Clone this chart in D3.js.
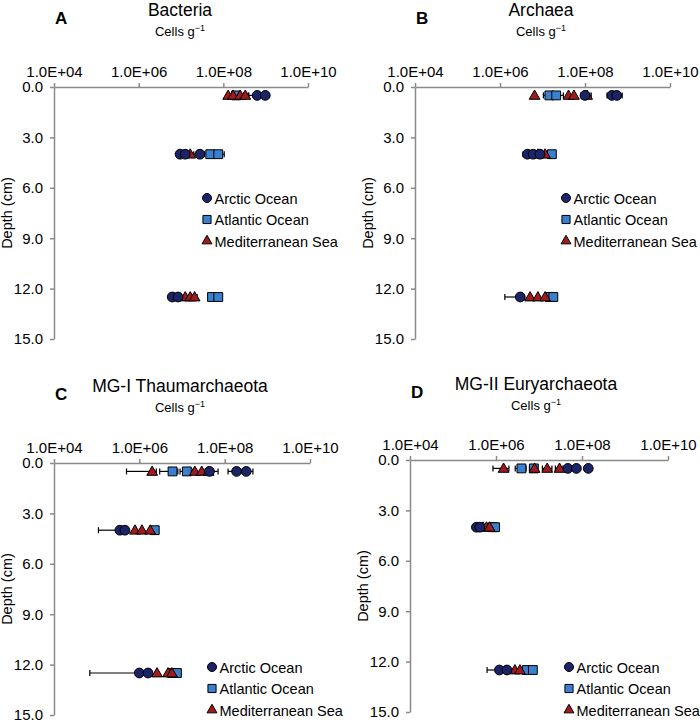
<!DOCTYPE html>
<html>
<head>
<meta charset="utf-8">
<script src="https://cdn.jsdelivr.net/npm/d3@7"></script>
<style>
  body { margin: 0; background: #fff; }
  svg text { font-family: "Liberation Sans", Arial, sans-serif; fill: #000; }
</style>
</head>
<body>
<svg id="chart" width="700" height="723"></svg>
<script>
// rows: [site, depth (cm), cells per g, error low, error high]
const bacteria = [
  ['Atlantic Ocean', 0.5, 2.0e8], ['Mediterranean Sea', 0.5, 1.3e8], ['Mediterranean Sea', 0.5, 1.7e8],
  ['Mediterranean Sea', 0.5, 2.5e8], ['Mediterranean Sea', 0.5, 3.3e8, 3.0e8, 3.9e8],
  ['Arctic Ocean', 0.5, 6.3e8, 4.0e8, 7.0e8], ['Arctic Ocean', 0.5, 9.8e8],
  ['Arctic Ocean', 4, 9.5e6, 8.0e6, 1.1e7], ['Arctic Ocean', 4, 1.26e7], ['Mediterranean Sea', 4, 1.65e7],
  ['Arctic Ocean', 4, 2.8e7, 2.0e7, 3.6e7], ['Atlantic Ocean', 4, 4.9e7], ['Atlantic Ocean', 4, 7.6e7, 6.0e7, 1.05e8],
  ['Arctic Ocean', 12.5, 6.2e6], ['Arctic Ocean', 12.5, 8.5e6], ['Mediterranean Sea', 12.5, 1.26e7],
  ['Mediterranean Sea', 12.5, 1.65e7], ['Mediterranean Sea', 12.5, 2.1e7, 1.8e7, 2.4e7],
  ['Atlantic Ocean', 12.5, 5.4e7, 4.6e7, 6.4e7], ['Atlantic Ocean', 12.5, 7.6e7, 6.5e7, 9.0e7]
];
const archaea = [
  ['Mediterranean Sea', 0.5, 6.5e6], ['Atlantic Ocean', 0.5, 1.45e7, 1.05e7, 1.8e7],
  ['Atlantic Ocean', 0.5, 2.1e7, 1.7e7, 3.1e7], ['Mediterranean Sea', 0.5, 4.1e7], ['Mediterranean Sea', 0.5, 5.5e7],
  ['Arctic Ocean', 0.5, 1.0e8, 8.0e7, 1.3e8], ['Mediterranean Sea', 0.5, 1.12e8, 9.0e7, 1.4e8],
  ['Arctic Ocean', 0.5, 4.3e8, 3.3e8, 5.0e8], ['Arctic Ocean', 0.5, 5.6e8, 4.5e8, 7.5e8],
  ['Arctic Ocean', 4, 4.4e6, 3.5e6, 5.0e6], ['Arctic Ocean', 4, 6.0e6], ['Mediterranean Sea', 4, 7.8e6],
  ['Arctic Ocean', 4, 8.7e6], ['Mediterranean Sea', 4, 1.15e7], ['Atlantic Ocean', 4, 1.66e7],
  ['Arctic Ocean', 12.5, 3.0e6, 1.3e6, 3.6e6], ['Mediterranean Sea', 12.5, 5.1e6], ['Mediterranean Sea', 12.5, 7.8e6],
  ['Mediterranean Sea', 12.5, 1.15e7], ['Atlantic Ocean', 12.5, 1.5e7], ['Atlantic Ocean', 12.5, 1.8e7, 1.5e7, 2.1e7]
];
const thaum = [
  ['Mediterranean Sea', 0.5, 2.0e6, 5.0e5, 2.5e6], ['Atlantic Ocean', 0.5, 6.0e6, 3.0e6, 8.0e6],
  ['Atlantic Ocean', 0.5, 1.3e7, 9.0e6, 1.8e7], ['Mediterranean Sea', 0.5, 2.0e7], ['Mediterranean Sea', 0.5, 2.9e7],
  ['Mediterranean Sea', 0.5, 4.2e7], ['Arctic Ocean', 0.5, 4.4e7, 3.5e7, 7.0e7],
  ['Arctic Ocean', 0.5, 1.9e8, 1.2e8, 2.6e8], ['Arctic Ocean', 0.5, 3.2e8, 2.6e8, 4.6e8],
  ['Arctic Ocean', 4, 3.5e5, 1.1e5, 4.0e5], ['Arctic Ocean', 4, 4.6e5], ['Mediterranean Sea', 4, 7.9e5],
  ['Mediterranean Sea', 4, 1.15e6], ['Mediterranean Sea', 4, 1.8e6], ['Atlantic Ocean', 4, 2.3e6, 1.9e6, 2.8e6],
  ['Arctic Ocean', 12.5, 1.0e6, 6.9e4, 1.1e6], ['Arctic Ocean', 12.5, 1.6e6], ['Mediterranean Sea', 12.5, 2.6e6],
  ['Atlantic Ocean', 12.5, 6.0e6], ['Mediterranean Sea', 12.5, 4.7e6], ['Mediterranean Sea', 12.5, 5.8e6],
  ['Atlantic Ocean', 12.5, 7.6e6, 6.5e6, 9.0e6]
];
const eury = [
  ['Mediterranean Sea', 0.5, 1.5e6, 8.5e5, 2.0e6], ['Atlantic Ocean', 0.5, 3.9e6, 2.8e6, 5.0e6],
  ['Atlantic Ocean', 0.5, 7.6e6, 6.0e6, 9.0e6], ['Mediterranean Sea', 0.5, 7.9e6], ['Mediterranean Sea', 0.5, 1.55e7, 1.2e7, 2.0e7],
  ['Mediterranean Sea', 0.5, 3.0e7, 2.4e7, 3.6e7], ['Arctic Ocean', 0.5, 4.7e7], ['Arctic Ocean', 0.5, 7.4e7],
  ['Arctic Ocean', 0.5, 1.4e8],
  ['Arctic Ocean', 4, 3.5e5, 3.0e5, 4.0e5], ['Arctic Ocean', 4, 4.2e5], ['Mediterranean Sea', 4, 5.0e5],
  ['Mediterranean Sea', 4, 6.0e5], ['Mediterranean Sea', 4, 7.1e5], ['Atlantic Ocean', 4, 8.3e5], ['Atlantic Ocean', 4, 9.5e5, 8.5e5, 1.1e6],
  ['Arctic Ocean', 12.5, 1.2e6, 6.2e5, 1.4e6], ['Arctic Ocean', 12.5, 1.8e6], ['Mediterranean Sea', 12.5, 2.75e6],
  ['Mediterranean Sea', 12.5, 3.6e6], ['Atlantic Ocean', 12.5, 5.2e6], ['Atlantic Ocean', 12.5, 7.2e6, 6.2e6, 8.5e6]
];
const sites = ['Arctic Ocean', 'Atlantic Ocean', 'Mediterranean Sea'];
const xTicks = [1e4, 1e6, 1e8, 1e10];
const depthTicks = [0, 3, 6, 9, 12, 15];

const panels = [
  { letter: 'A', title: 'Bacteria', data: bacteria, left: 54, right: 308, top: 87, dy: 0 },
  { letter: 'B', title: 'Archaea', data: archaea, left: 415, right: 670, top: 87, dy: 0 },
  { letter: 'C', title: 'MG-I Thaumarchaeota', data: thaum, left: 54, right: 310, top: 463, dy: 376 },
  { letter: 'D', title: 'MG-II Euryarchaeota', data: eury, left: 410, right: 668, top: 460, dy: 374 }
];
const fills = { 'Arctic Ocean': '#1b2466', 'Atlantic Ocean': '#3a7fd0', 'Mediterranean Sea': '#a01b1e' };
const shapes = { 'Arctic Ocean': d3.symbolCircle, 'Atlantic Ocean': d3.symbolSquare, 'Mediterranean Sea': d3.symbolTriangle };
const sizes = { 'Arctic Ocean': 75, 'Atlantic Ocean': 78, 'Mediterranean Sea': 50 };
const drawOrder = ['Atlantic Ocean', 'Mediterranean Sea', 'Arctic Ocean'];

const svg = d3.select('#chart');
const fmt = d => d.toExponential(1).replace('e', 'E').replace(/([+-])(\d)$/, '$10$2');

panels.forEach(p => {
  const g = svg.append('g');
  const bottom = p.top + 252;
  const x = d3.scaleLog().domain([1e4, 1e10]).range([p.left, p.right]);
  const y = d3.scaleLinear().domain([0, 15]).range([p.top, bottom]);

  g.append('text').attr('x', p.left + 1).attr('y', 24 + p.dy).attr('font-size', 17)
    .attr('font-weight', 'bold').text(p.letter);
  g.append('text').attr('x', p.left + 126).attr('y', 16 + p.dy).attr('font-size', 17.5)
    .attr('text-anchor', 'middle').text(p.title);
  const cells = g.append('text').attr('x', p.left + 126).attr('y', 36 + p.dy).attr('font-size', 13)
    .attr('text-anchor', 'middle');
  cells.append('tspan').text('Cells g');
  cells.append('tspan').attr('font-size', 9).attr('dy', -5).text('−1');

  const xAxis = g.append('g').attr('transform', `translate(0,${p.top})`)
    .call(d3.axisTop(x).tickValues(xTicks).tickFormat(fmt).tickSize(4).tickSizeOuter(0).tickPadding(6));
  const yAxis = g.append('g').attr('transform', `translate(${p.left},0)`)
    .call(d3.axisLeft(y).tickValues(depthTicks).tickFormat(d3.format('.1f')).tickSize(4).tickSizeOuter(0).tickPadding(7));
  [xAxis, yAxis].forEach(a => {
    a.selectAll('path, line').attr('stroke', '#8a8a8a').attr('stroke-width', 1.5);
    a.selectAll('text').attr('font-size', 15).attr('fill', '#000')
      .style('font-family', '"Liberation Sans", Arial, sans-serif');
  });

  g.append('text').attr('transform', `translate(${p.left - 42},${(p.top + bottom) / 2}) rotate(-90)`)
    .attr('text-anchor', 'middle').attr('font-size', 14.5).text('Depth (cm)');

  const rows = p.data.filter(r => r.length > 3);
  const bars = g.selectAll('.err').data(rows).enter().append('g').attr('stroke', '#000').attr('stroke-width', 1.2);
  bars.append('line').attr('x1', r => x(r[3])).attr('x2', r => x(r[4]))
    .attr('y1', r => y(r[1])).attr('y2', r => y(r[1]));
  bars.append('line').attr('x1', r => x(r[3])).attr('x2', r => x(r[3]))
    .attr('y1', r => y(r[1]) - 3).attr('y2', r => y(r[1]) + 3);
  bars.append('line').attr('x1', r => x(r[4])).attr('x2', r => x(r[4]))
    .attr('y1', r => y(r[1]) - 3).attr('y2', r => y(r[1]) + 3);

  drawOrder.forEach(site => {
    g.selectAll(null).data(p.data.filter(r => r[0] === site)).enter().append('path')
      .attr('d', d3.symbol().type(shapes[site]).size(sizes[site]))
      .attr('transform', r => `translate(${x(r[2])},${y(r[1]) + (site === 'Mediterranean Sea' ? 0.8 : 0)})`)
      .attr('fill', fills[site]).attr('stroke', '#000').attr('stroke-width', 1);
  });

  const legY = p.letter === 'A' || p.letter === 'B' ? 198 : 667;
  const legX = p.left + 153 + (p.letter === 'C' ? 5 : 0) + (p.letter === 'D' ? 6 : 0) - (p.letter === 'B' ? 2 : 0);
  const leg = g.selectAll('.leg').data(sites).enter().append('g')
    .attr('transform', (s, i) => `translate(${legX},${legY + i * 21.5})`);
  leg.append('path').attr('d', s => d3.symbol().type(shapes[s]).size(sizes[s] * 0.85)())
    .attr('fill', s => fills[s]).attr('stroke', '#000').attr('stroke-width', 1);
  leg.append('text').attr('x', 7.5).attr('y', 5.5).attr('font-size', 14.5).text(s => s);
});
</script>
</body>
</html>
